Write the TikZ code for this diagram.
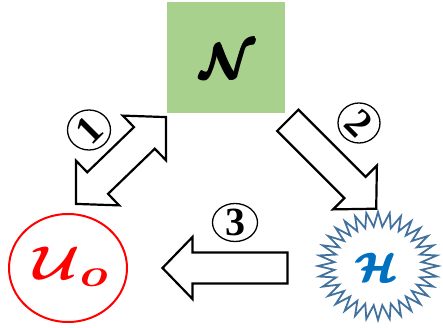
\documentclass[tikz,border=0pt]{standalone}
\usepackage{amsmath,bm}
\usepackage{fontspec}
\newfontfamily\digitfont{Liberation Serif}
\usetikzlibrary{shapes.geometric}
\definecolor{ngreen}{HTML}{A9D18E}
\definecolor{starblue}{HTML}{41719C}
\definecolor{hblue}{HTML}{0070C0}
\tikzset{
  blockarrow/.style={draw=black, line width=2.2pt, fill=white, line join=miter},
  numcircle/.style={draw=black, ellipse, line width=1.3pt, inner sep=0pt},
  numtext/.style={inner sep=0pt, font=\digitfont\bfseries\fontsize{40}{40}\selectfont},
  scriptlabel/.style={inner sep=0pt, font=\Huge}
}
\begin{document}
\begin{tikzpicture}[x=1pt,y=-1pt]
\useasboundingbox (0,0) rectangle (443,328);
% N box
\node[fill=ngreen, minimum width=118pt, minimum height=111pt, inner sep=0pt] (N) at (226,57.5) {};
\node[scriptlabel] (Ntext) at (229,61) {\scalebox{2.0}[1.95]{$\pmb{\bm{\mathcal{N}}}$}};
% U ellipse
\node[draw=red, line width=2pt, ellipse, minimum width=118pt, minimum height=108pt, inner sep=0pt] (U) at (68,268) {};
\node[scriptlabel, text=red] (Utext) at (71,267) {\scalebox{2.3}[1.9]{$\bm{\mathcal{U}_{o}}$}};
% H starburst
\coordinate (H) at (378,266);
\draw[draw=starblue, line width=1.8pt, fill=white, line join=miter]
  plot[domain=0:64, samples=65] ({378+60*(1-0.27*mod(round(\x),2))*cos(\x*5.625)}, {266+54*(1-0.27*mod(round(\x),2))*sin(\x*5.625)}) -- cycle;
\node[scriptlabel, text=hblue] (Htext) at (377.5,267) {\scalebox{1.7}[1.6]{$\pmb{\bm{\mathcal{H}}}$}};
% arrow 1 (double)
\begin{scope}[shift={(121,160.5)}, rotate=44]
\draw[blockarrow] (-32.5,-15) -- (32.5,-15) -- (32.5,-31) -- (62.5,0) -- (32.5,31) -- (32.5,15) -- (-32.5,15) -- (-32.5,31) -- (-62.5,0) -- (-32.5,-31) -- cycle;
\end{scope}
% arrow 2
\begin{scope}[shift={(332,164.5)}, rotate=-45]
\draw[blockarrow] (-62.5,-15) -- (32.5,-15) -- (32.5,-31) -- (62.5,0) -- (32.5,31) -- (32.5,15) -- (-62.5,15) -- cycle;
\end{scope}
% arrow 3
\begin{scope}[shift={(225,268)}, rotate=180]
\draw[blockarrow] (-62.5,-15.5) -- (32.5,-15.5) -- (32.5,-31) -- (62.5,0) -- (32.5,31) -- (32.5,15.5) -- (-62.5,15.5) -- cycle;
\end{scope}
% circled numbers
\node[numcircle, minimum width=43pt, minimum height=40pt] (c1) at (89,130) {};
\node[numtext, rotate=45] (n1) at (c1) {1};
\node[numcircle, minimum width=42pt, minimum height=40pt] (c2) at (359,123) {};
\node[numtext, rotate=-45] (n2) at (c2) {2};
\node[numcircle, minimum width=45pt, minimum height=38pt] (c3) at (235,222.5) {};
\node[numtext] (n3) at (c3) {3};
\end{tikzpicture}
\end{document}
